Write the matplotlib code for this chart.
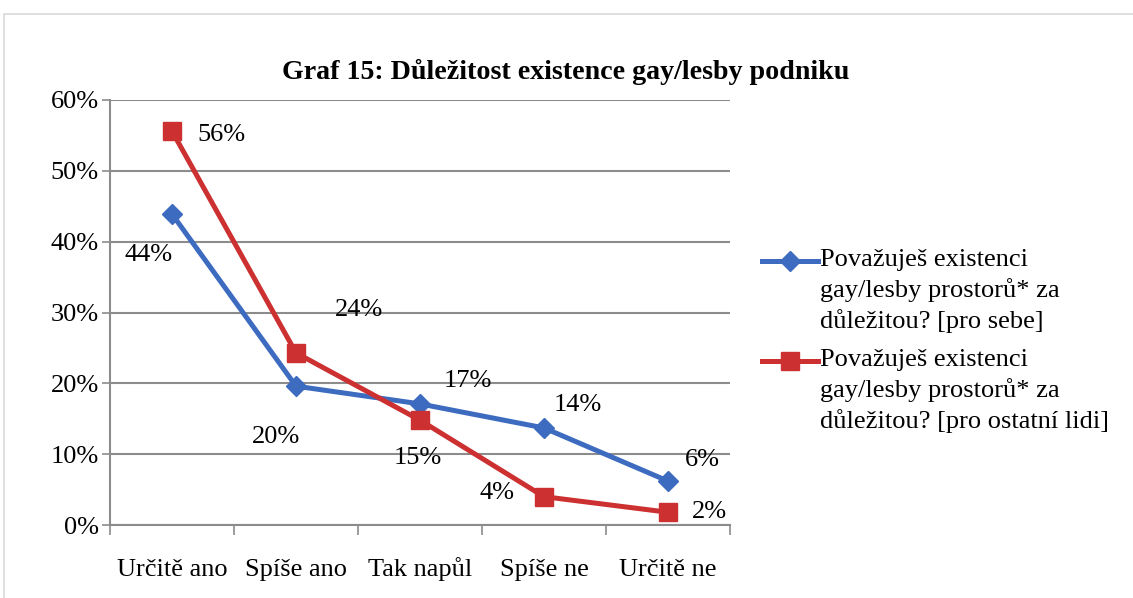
import numpy as np
import matplotlib
matplotlib.use("Agg")
import matplotlib.pyplot as plt
from matplotlib.lines import Line2D
from matplotlib.patches import Rectangle
from matplotlib.ticker import FuncFormatter

plt.rcParams['font.family'] = ['Liberation Serif', 'DejaVu Serif']

# data
categories = ['Určitě ano', 'Spíše ano', 'Tak napůl', 'Spíše ne', 'Určitě ne']
sebe = [43.9, 19.6, 17.1, 13.7, 6.2]
ostatni = [55.6, 24.3, 14.8, 4.0, 1.8]
sebe_labels = ['44%', '20%', '17%', '14%', '6%']
ostatni_labels = ['56%', '24%', '15%', '4%', '2%']
legend_labels = ['Považuješ existenci\ngay/lesby prostorů* za\ndůležitou? [pro sebe]',
                 'Považuješ existenci\ngay/lesby prostorů* za\ndůležitou? [pro ostatní lidi]']
title = 'Graf 15: Důležitost existence gay/lesby podniku'

blue = '#3D6BBF'
red = '#CC3030'
grid_c = '#8C8C8C'
fs = 19

W, H = 1133, 598
fig = plt.figure(figsize=(W / 100, H / 100), dpi=100)

# light frame around the chart
fig.add_artist(Rectangle((4 / W, -0.1), 1.2, 1.1 - 14 / H, transform=fig.transFigure,
                         fill=False, edgecolor='#D9D9D9', linewidth=1.2))

ax = fig.add_axes([110 / W, 1 - 525 / H, 620 / W, 425 / H])
x = np.arange(len(categories)) + 0.5

ax.plot(x, sebe, color=blue, linewidth=3.6, marker='D', markersize=10, zorder=3)
ax.plot(x, ostatni, color=red, linewidth=3.6, marker='s', markersize=12.5, zorder=4)

# data labels (offsets in pixels)
sebe_off = [(-23, -41), (-20, -51), (48, 23), (34, 23), (34, 21)]
ost_off = [(49, -4), (63, 43), (-2, -38), (-47, 4), (41, 0)]
for i in range(len(categories)):
    ax.annotate(sebe_labels[i], (x[i], sebe[i]), textcoords='offset pixels',
                xytext=sebe_off[i], ha='center', va='center', fontsize=fs)
    ax.annotate(ostatni_labels[i], (x[i], ostatni[i]), textcoords='offset pixels',
                xytext=ost_off[i], ha='center', va='center', fontsize=fs)

ax.set_xlim(0, 5)
ax.set_ylim(0, 60)
ax.set_yticks(np.arange(0, 61, 10))
ax.yaxis.set_major_formatter(FuncFormatter(lambda v, p: f'{int(v)}%'))
ax.set_xticks(np.arange(0, 6))
ax.set_xticklabels([])
ax.set_xticks(x, minor=True)
ax.set_xticklabels(categories, minor=True, va='baseline')
ax.tick_params(axis='x', which='major', length=7, width=1.2, color=grid_c, direction='out')
ax.tick_params(axis='x', which='minor', length=0, pad=36.5, labelsize=fs)
ax.tick_params(axis='y', length=6, width=1.2, color=grid_c, pad=2, labelsize=fs)
ax.grid(axis='y', color=grid_c, linewidth=1.5)
ax.set_axisbelow(True)
for s in ['top', 'right']:
    ax.spines[s].set_visible(False)
for s in ['left', 'bottom']:
    ax.spines[s].set_color(grid_c)
    ax.spines[s].set_linewidth(1.5)

fig.text(566 / W, 1 - 72 / H, title, ha='center', va='center', fontsize=20.2, fontweight='bold')

# legend drawn by hand so the marker sits on the first text line
for j, (c, m, ms) in enumerate([(blue, 'D', 10), (red, 's', 12.5)]):
    y0 = 1 - (261 + 100 * j) / H
    fig.add_artist(Line2D([762 / W, 818 / W], [y0, y0], transform=fig.transFigure,
                          color=c, linewidth=3.6))
    fig.add_artist(Line2D([790 / W], [y0], transform=fig.transFigure, color=c,
                          marker=m, markersize=ms, linestyle='none'))
    fig.text(820 / W, y0 + 12 / H, legend_labels[j], ha='left', va='top',
             fontsize=fs, linespacing=1.38)

plt.savefig('out.png', dpi=100)
